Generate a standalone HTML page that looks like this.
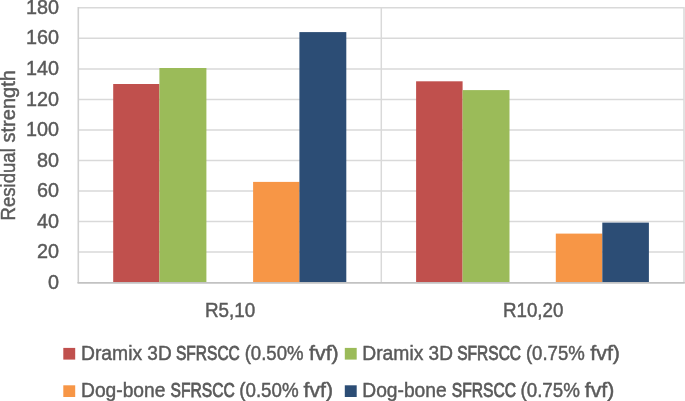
<!DOCTYPE html>
<html>
<head>
<meta charset="utf-8">
<style>
html,body{margin:0;padding:0;background:#fff;}
body{width:685px;height:401px;overflow:hidden;}
svg{display:block;}
text{font-family:"Liberation Sans",sans-serif;fill:#595959;stroke:#595959;stroke-width:0.45px;}
.txt{opacity:0.995;}
</style>
</head>
<body>
<svg width="685" height="401" viewBox="0 0 685 401">
<rect x="0" y="0" width="685" height="401" fill="#fff"/>
<g stroke="#D9D9D9" stroke-width="1.5" fill="none">
<line x1="78.3" x2="683.8" y1="7.80" y2="7.80"/>
<line x1="78.3" x2="683.8" y1="38.34" y2="38.34"/>
<line x1="78.3" x2="683.8" y1="68.88" y2="68.88"/>
<line x1="78.3" x2="683.8" y1="99.42" y2="99.42"/>
<line x1="78.3" x2="683.8" y1="129.96" y2="129.96"/>
<line x1="78.3" x2="683.8" y1="160.50" y2="160.50"/>
<line x1="78.3" x2="683.8" y1="191.04" y2="191.04"/>
<line x1="78.3" x2="683.8" y1="221.58" y2="221.58"/>
<line x1="78.3" x2="683.8" y1="252.12" y2="252.12"/>
<line x1="78.3" x2="78.3" y1="7" y2="283" stroke="#D0D0D0" stroke-width="1.6"/>
<line x1="381.3" x2="381.3" y1="7" y2="283"/>
<line x1="684.0" x2="684.0" y1="7" y2="283"/>
</g>
<g>
<rect x="113.2" y="84.0" width="46.2" height="198.6" fill="#C0504D"/>
<rect x="159.4" y="68.0" width="47.0" height="214.6" fill="#9BBB59"/>
<rect x="253.1" y="181.9" width="46.4" height="100.7" fill="#F79646"/>
<rect x="299.4" y="32.1" width="46.9" height="250.5" fill="#2C4D75"/>
<rect x="416.1" y="81.3" width="46.5" height="201.3" fill="#C0504D"/>
<rect x="462.6" y="90.1" width="46.9" height="192.5" fill="#9BBB59"/>
<rect x="555.8" y="233.6" width="46.5" height="49.0" fill="#F79646"/>
<rect x="602.3" y="222.6" width="46.6" height="60.0" fill="#2C4D75"/>
</g>
<line x1="77.5" x2="684.8" y1="282.8" y2="282.8" stroke="#C2C2C2" stroke-width="1.7"/>
<g class="txt">
<g font-size="19.8" text-anchor="end">
<text x="59" y="13.90">180</text>
<text x="59" y="44.44">160</text>
<text x="59" y="74.98">140</text>
<text x="59" y="105.52">120</text>
<text x="59" y="136.06">100</text>
<text x="59" y="166.60">80</text>
<text x="59" y="197.14">60</text>
<text x="59" y="227.68">40</text>
<text x="59" y="258.22">20</text>
<text x="59" y="288.76">0</text>
</g>
<text font-size="19.5" transform="translate(15.2,220.5) rotate(-90)" x="0" y="0" textLength="72.3" lengthAdjust="spacingAndGlyphs">Residual</text>
<text font-size="19.5" transform="translate(15.2,142.5) rotate(-90)" x="0" y="0" textLength="72.4" lengthAdjust="spacingAndGlyphs">strength</text>
<g font-size="19.5" text-anchor="middle">
<text x="230.1" y="317.3" textLength="50.3" lengthAdjust="spacingAndGlyphs">R5,10</text>
<text x="533.2" y="317.3" textLength="60.5" lengthAdjust="spacingAndGlyphs">R10,20</text>
</g>
<g font-size="19.5">
<text x="81.00" y="359.8" textLength="61.11" lengthAdjust="spacingAndGlyphs">Dramix</text>
<text x="147.37" y="359.8" textLength="24.34" lengthAdjust="spacingAndGlyphs">3D</text>
<text x="176.00" y="359.8" textLength="63.80" lengthAdjust="spacingAndGlyphs" style="stroke-width:0.8px">SFRSCC</text>
<text x="244.65" y="359.8" textLength="58.92" lengthAdjust="spacingAndGlyphs">(0.50%</text>
<text x="309.00" y="359.8" textLength="29.73" lengthAdjust="spacingAndGlyphs">fvf)</text>
<text x="362.25" y="359.8" textLength="61.11" lengthAdjust="spacingAndGlyphs">Dramix</text>
<text x="428.62" y="359.8" textLength="24.34" lengthAdjust="spacingAndGlyphs">3D</text>
<text x="457.25" y="359.8" textLength="63.80" lengthAdjust="spacingAndGlyphs" style="stroke-width:0.8px">SFRSCC</text>
<text x="525.90" y="359.8" textLength="58.92" lengthAdjust="spacingAndGlyphs">(0.75%</text>
<text x="590.25" y="359.8" textLength="29.73" lengthAdjust="spacingAndGlyphs">fvf)</text>
<text x="81.01" y="396.9" textLength="84.45" lengthAdjust="spacingAndGlyphs">Dog-bone</text>
<text x="170.49" y="396.9" textLength="64.31" lengthAdjust="spacingAndGlyphs" style="stroke-width:0.8px">SFRSCC</text>
<text x="239.24" y="396.9" textLength="59.43" lengthAdjust="spacingAndGlyphs">(0.50%</text>
<text x="303.50" y="396.9" textLength="29.52" lengthAdjust="spacingAndGlyphs">fvf)</text>
<text x="362.26" y="396.9" textLength="84.45" lengthAdjust="spacingAndGlyphs">Dog-bone</text>
<text x="451.74" y="396.9" textLength="64.31" lengthAdjust="spacingAndGlyphs" style="stroke-width:0.8px">SFRSCC</text>
<text x="520.49" y="396.9" textLength="59.43" lengthAdjust="spacingAndGlyphs">(0.75%</text>
<text x="584.75" y="396.9" textLength="29.52" lengthAdjust="spacingAndGlyphs">fvf)</text>
</g>
</g>
<rect x="63.3" y="347.9" width="11.9" height="11.7" fill="#C0504D"/>
<rect x="344.8" y="347.9" width="11.9" height="11.7" fill="#9BBB59"/>
<rect x="63.3" y="385.3" width="11.9" height="11.7" fill="#F79646"/>
<rect x="344.8" y="385.3" width="11.9" height="11.7" fill="#2C4D75"/>
</svg>
</body>
</html>
